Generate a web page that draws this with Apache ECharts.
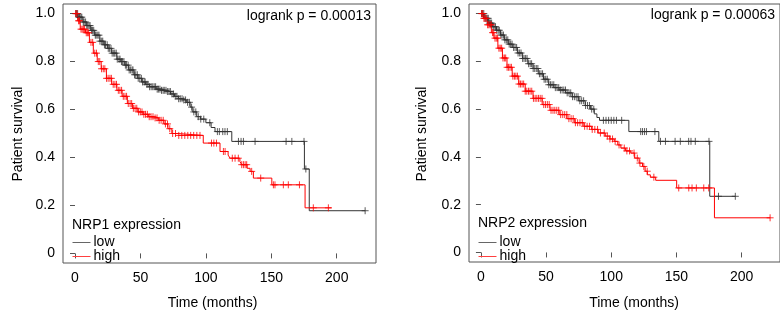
<!DOCTYPE html>
<html><head><meta charset="utf-8">
<script src="https://cdn.jsdelivr.net/npm/echarts@6/dist/echarts.min.js"></script>
<style>html,body{margin:0;padding:0;background:#fff}#c{width:780px;height:320px}</style>
</head><body><div id="c"></div>
<script>
// ---- tick labels ----
const xTicks = [0, 50, 100, 150, 200];
const yTicks = [0, 0.2, 0.4, 0.6, 0.8, 1.0];

// ---- NRP1 (left) : Kaplan-Meier steps [time (months), survival] ----
const nrp1LowKM = [[0,1.0],[3,0.985],[6,0.965],[9,0.95],[12,0.93],[15,0.91],[19,0.885],[22,0.87],[25,0.855],[28,0.835],[32,0.81],[35,0.8],[38,0.785],[41,0.765],[45,0.745],[48,0.73],[51,0.715],[54,0.705],[57,0.695],[62,0.685],[66,0.68],[70,0.675],[73,0.665],[76,0.655],[79,0.645],[82,0.64],[85,0.63],[88,0.61],[90,0.59],[93,0.57],[96,0.56],[100,0.545],[104,0.525],[107,0.508],[119.8,0.467],[175.3,0.352],[179,0.178],[221.7,0.178]];
const nrp1LowCensor = [0.5,1.2,2,3,3.6,4.5,5.2,6.3,7,8.1,9,9.8,10.7,11.5,12.6,13.4,14.3,15.5,16.2,17.4,18.3,19.1,20.4,21.2,22.5,23.3,24.6,25.4,26.3,27.5,28.4,29.6,30.4,31.5,32.3,33.6,34.4,35.5,36.2,37.4,38.5,39.3,40.6,41.4,42.5,43.6,44.3,45.5,46.4,47.6,48.3,49.5,50.7,51.6,52.8,53.6,54.9,55.8,57,58.2,59.4,60.5,61.6,62.8,63.7,64.9,66.1,67.3,68.2,69.5,70.6,71.8,72.9,74.1,75.3,76.6,77.9,79.2,80.4,81.8,83.1,84.5,86,87.4,89.1,90.8,92.3,94.2,96.1,98.4,103,108.8,110.3,112.9,114.6,116.4,124.9,126.9,128.7,137.6,161.3,165.7,175,176.4,221.7];
const nrp1HighKM = [[0,1.0],[2,0.97],[4,0.935],[8,0.92],[11,0.88],[14,0.835],[17,0.8],[20,0.77],[24,0.73],[28,0.705],[32,0.68],[36,0.655],[40,0.625],[44,0.605],[48,0.59],[52,0.58],[56,0.57],[60,0.565],[64,0.555],[68,0.54],[71,0.52],[74,0.5],[78,0.492],[98,0.46],[110.8,0.425],[117,0.41],[118.5,0.397],[126,0.383],[127.4,0.37],[131.5,0.355],[133.8,0.342],[136.3,0.314],[150.4,0.286],[175.8,0.19],[196,0.19]];
const nrp1HighCensor = [0.6,1.5,2.7,3.4,4.6,5.5,6.4,7.3,8.6,9.5,10.4,12.2,13.5,15.1,16.4,17.8,18.9,20.3,21.6,22.8,24.1,25.3,26.7,27.8,29.2,30.5,31.7,33.1,34.3,35.6,36.9,38.2,39.4,40.7,42.1,43.3,44.6,45.9,47.2,48.6,49.9,51.2,52.6,53.9,55.3,56.7,58.1,59.6,61.2,62.7,64.3,65.8,67.4,69.1,70.7,72.4,74.6,76.8,79.3,81.6,83.9,86.2,88.4,90.7,93.1,95.5,104.3,106.1,108.1,113.4,114.7,120.2,122.3,124.8,127.4,128.7,130,131.2,135,141.9,151.6,152.8,159.2,163,171.5,182.1,193.6];

// ---- NRP2 (right) ----
const nrp2LowKM = [[0,1.0],[3,0.98],[6,0.96],[9,0.945],[12,0.93],[15,0.91],[18,0.89],[21,0.872],[24,0.858],[28,0.835],[32,0.812],[36,0.79],[40,0.77],[44,0.748],[48,0.725],[52,0.702],[56,0.69],[60,0.68],[65,0.668],[70,0.652],[75,0.635],[80,0.615],[84,0.6],[87,0.58],[89,0.565],[91,0.553],[113.5,0.506],[136.5,0.465],[175.6,0.235],[195.2,0.235]];
const nrp2LowCensor = [0.5,1.3,2.2,3.1,3.9,4.8,5.6,6.5,7.4,8.2,9.3,10.1,11.2,12.1,13.2,14.1,15.3,16.2,17.3,18.4,19.5,20.6,21.7,22.8,23.9,25.1,26.2,27.4,28.5,29.7,30.8,32,33.1,34.3,35.4,36.6,37.8,38.9,40.1,41.3,42.5,43.7,44.9,46.1,47.3,48.5,49.7,50.9,52.1,53.4,54.6,55.9,57.1,58.4,59.7,61,62.3,63.6,64.9,66.2,67.6,68.9,70.3,71.7,73.1,74.5,75.9,77.3,78.8,80.3,81.8,83.3,85,86.6,94,96,98,100,102,104,108,122.6,124,125.5,127,133.5,137.8,141.6,149,153,159.4,161.2,164.5,175,182.3,195.2];
const nrp2HighKM = [[0,1.0],[2,0.98],[5,0.953],[8,0.92],[10,0.897],[13,0.855],[16.5,0.814],[20,0.775],[24,0.738],[29,0.705],[34,0.675],[40,0.645],[47,0.619],[53,0.595],[60,0.577],[66,0.56],[72,0.543],[79,0.528],[85,0.515],[90,0.5],[95.4,0.487],[99,0.475],[102.3,0.465],[105,0.45],[107.4,0.437],[111,0.425],[115,0.416],[118,0.395],[121.4,0.374],[124,0.36],[126,0.34],[127.7,0.325],[130,0.315],[134.1,0.302],[150.2,0.27],[179.2,0.145],[221.9,0.145]];
const nrp2HighCensor = [0.6,1.4,2.3,3.2,4.1,5.1,6,7,7.9,8.9,9.8,10.8,11.8,12.8,13.8,14.8,15.9,16.9,18,19,20.1,21.2,22.3,23.4,24.5,25.7,26.8,28,29.2,30.4,31.6,32.8,34,35.2,36.5,37.7,39,40.3,41.6,42.9,44.2,45.5,46.9,48.2,49.6,51,52.4,53.8,55.3,56.7,58.2,59.7,61.2,62.8,64.3,65.9,67.5,69.2,70.8,72.5,74.2,76,77.8,79.6,81.5,83.4,85.4,87.4,89.5,91.7,94.6,97,99,101,103,106,110,112,114,117.5,120,122,125,127.6,132.7,151.8,159.5,162,165.3,171,174.8,221.9];

const FONT = 'Liberation Sans, Arial, sans-serif';
const LOW_C = '#333333', HIGH_C = '#ff0000';

function stepAt(km, t) {
  let s = km[0][1];
  for (const p of km) { if (p[0] <= t) s = p[1]; else break; }
  return s;
}
const censorPts = (km, times) => times.map(t => [t, stepAt(km, t)]);

const grids = [
  {left: 63, top: 4, width: 313, height: 259, xmin: -9.17, xmax: 230.0},
  {left: 469, top: 4, width: 313, height: 258, xmin: -9.15, xmax: 229.5}
];

const axisTxt = {fontSize: 14, color: '#000', fontFamily: FONT};
const xAxes = grids.map((g, i) => ({
  type: 'value', gridIndex: i, min: g.xmin, max: g.xmax,
  splitLine: {show: false}, axisLine: {show: false},
  axisTick: {show: true, inside: false, length: 5, customValues: xTicks, lineStyle: {color: '#555'}},
  axisLabel: Object.assign({customValues: xTicks, margin: 8}, axisTxt)
}));
const yAxes = grids.map((g, i) => ({
  type: 'value', gridIndex: i, min: -0.04, max: 1.04,
  splitLine: {show: false}, axisLine: {show: false},
  axisTick: {show: true, inside: false, length: 5, customValues: yTicks, lineStyle: {color: '#555'}},
  axisLabel: Object.assign({customValues: yTicks, margin: 8, formatter: v => v === 0 ? '0' : v.toFixed(1)}, axisTxt)
}));

const plus = 'path://M0,5L10,5M5,0L5,10';
function kmSeries(name, km, cens, color, gi) {
  return [
    {name: name, type: 'line', step: 'end', xAxisIndex: gi, yAxisIndex: gi, data: km,
     showSymbol: false, symbol: 'none', lineStyle: {width: 1, color: color}, itemStyle: {color: color},
     silent: true, z: 2},
    {name: name + ' censored', type: 'scatter', xAxisIndex: gi, yAxisIndex: gi, data: censorPts(km, cens),
     symbol: plus, symbolSize: 7, itemStyle: {color: 'none', borderColor: color, borderWidth: 1},
     silent: true, z: 3}
  ];
}

const series = [].concat(
  kmSeries('low', nrp1LowKM, nrp1LowCensor, LOW_C, 0),
  kmSeries('high', nrp1HighKM, nrp1HighCensor, HIGH_C, 0),
  kmSeries('low', nrp2LowKM, nrp2LowCensor, LOW_C, 1),
  kmSeries('high', nrp2HighKM, nrp2HighCensor, HIGH_C, 1)
);

const legendBase = {
  orient: 'vertical',
  data: [{name: 'low', itemStyle: {opacity: 0}, lineStyle: {color: '#666', width: 1}},
         {name: 'high', itemStyle: {opacity: 0}, lineStyle: {color: '#ff4040', width: 1}}],
  itemWidth: 18, itemHeight: 11,
  itemGap: 0, padding: 0, selectedMode: false,
  textStyle: {fontSize: 14, color: '#000', fontFamily: FONT, lineHeight: 11, padding: [0,0,0,-2]}
};

const txt = (text, x, y, opts) => Object.assign({
  type: 'text', x: x, y: y, silent: true,
  style: Object.assign({text: text, font: '14px ' + FONT, fill: '#000', align: 'center', verticalAlign: 'middle'}, opts || {})
});

const chart = echarts.init(document.getElementById('c'), null, {renderer: 'canvas'});
chart.setOption({
  animation: false,
  backgroundColor: '#fff',
  grid: grids.map(g => ({left: g.left, top: g.top, width: g.width, height: g.height, show: true,
    borderColor: '#555', borderWidth: 1, backgroundColor: 'transparent', containLabel: false})),
  xAxis: xAxes,
  yAxis: yAxes,
  legend: [
    Object.assign({left: 72, top: 235.5}, legendBase),
    Object.assign({left: 478, top: 235.5}, legendBase)
  ],
  graphic: [
    Object.assign(txt('Patient survival', 18, 134), {rotation: Math.PI / 2}),
    Object.assign(txt('Patient survival', 422, 134), {rotation: Math.PI / 2}),
    txt('Time (months)', 212.5, 303),
    txt('Time (months)', 634, 303),
    txt('logrank p = 0.00013', 371, 16, {align: 'right'}),
    txt('logrank p = 0.00063', 775, 15, {align: 'right'}),
    txt('NRP1 expression', 72, 225, {align: 'left'}),
    txt('NRP2 expression', 478, 223, {align: 'left'})
  ],
  series: series
});
</script>
</body></html>
